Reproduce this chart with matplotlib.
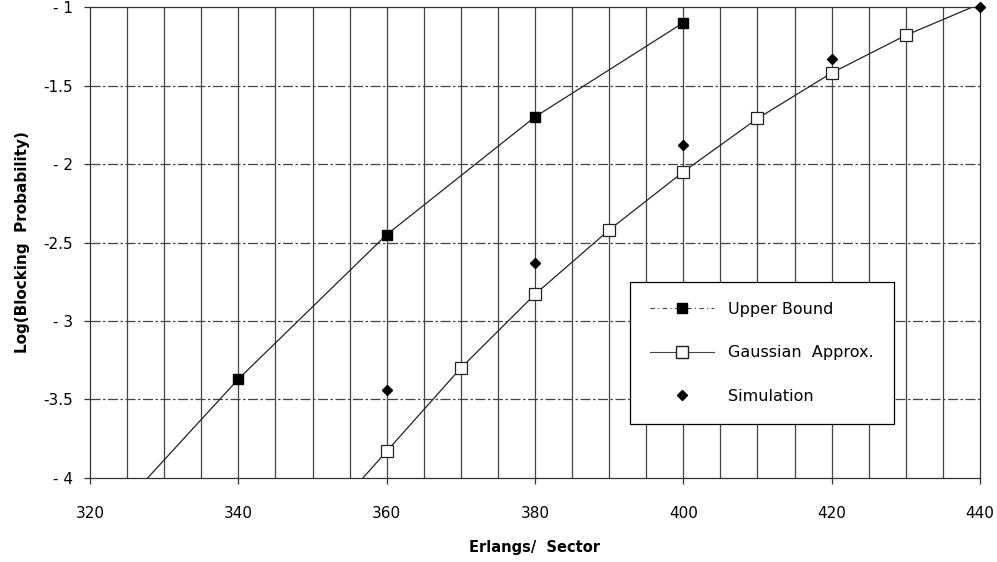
import matplotlib
matplotlib.use("Agg")
from matplotlib import pyplot as plt
import numpy as np

# values
upper_x = [340, 360, 380, 400]
upper_y = [-3.37, -2.45, -1.70, -1.10]
# fitted curve runs past the first point down to the axis
upper_curve_x = [320, 340, 360, 380, 400]
upper_curve_y = [-4.40, -3.37, -2.45, -1.70, -1.10]

gauss_x = [360, 370, 380, 390, 400, 410, 420, 430]
gauss_y = [-3.83, -3.30, -2.83, -2.42, -2.05, -1.71, -1.42, -1.18]
gauss_curve_x = [350, 360, 370, 380, 390, 400, 410, 420, 430, 440]
gauss_curve_y = [-4.36, -3.83, -3.30, -2.83, -2.42, -2.05, -1.71, -1.42, -1.18, -0.98]

sim_x = [360, 380, 400, 420, 440]
sim_y = [-3.44, -2.63, -1.88, -1.33, -1.00]

y_ticks = [-4, -3.5, -3, -2.5, -2, -1.5, -1]
y_tick_labels = ['- 4', '-3.5', '- 3', '-2.5', '- 2', '-1.5', '- 1']
x_ticks = [320, 340, 360, 380, 400, 420, 440]

plt.rcParams['font.family'] = ['DejaVu Sans']

fig = plt.figure(figsize=(9.97, 5.62), dpi=100)
ax = fig.add_axes([0.0903, 0.1495, 0.8926, 0.838])

# grid: solid verticals every 5, dash-dot horizontals
for gx in np.arange(325, 440, 5):
    ax.axvline(gx, color='#444444', lw=0.9, zorder=1)
for gy in y_ticks[1:-1]:
    ax.axhline(gy, color='#444444', lw=0.9, ls=(0, (8, 2, 2, 2)), zorder=1)

ax.plot(upper_curve_x, upper_curve_y, color='#222222', lw=0.9, zorder=2)
ax.plot(gauss_curve_x, gauss_curve_y, color='#222222', lw=0.9, zorder=2)

ax.plot(upper_x, upper_y, ls='none', marker='s', ms=7, mfc='black', mec='black', zorder=3)
ax.plot(gauss_x, gauss_y, ls='none', marker='s', ms=8, mfc='white', mec='#222222', mew=0.9, zorder=3)
ax.plot(sim_x, sim_y, ls='none', marker='D', ms=5.5, mfc='black', mec='black', zorder=3, clip_on=False)

# legend handles
h1, = ax.plot([], [], color='#444444', lw=0.8, ls=(0, (4, 3, 1, 3)), marker='s', ms=7, mfc='black', mec='black')
h2, = ax.plot([], [], color='#444444', lw=0.8, marker='s', ms=8, mfc='white', mec='#222222')
h3, = ax.plot([], [], ls='none', marker='D', ms=5.5, mfc='black', mec='black')
leg = ax.legend([h1, h2, h3], ['Upper Bound', 'Gaussian  Approx.', 'Simulation'],
                loc='upper left', bbox_to_anchor=(0.607, 0.417), fontsize=11.5,
                frameon=True, fancybox=False, framealpha=1, edgecolor='black',
                labelspacing=1.8, handlelength=4.0, handletextpad=0.9,
                borderpad=1.25, borderaxespad=0)
leg.get_frame().set_linewidth(0.9)
leg.set_zorder(5)

ax.set_xlim(320, 440)
ax.set_ylim(-4, -1)
ax.set_xticks(x_ticks)
ax.set_yticks(y_ticks)
ax.set_yticklabels(y_tick_labels)
ax.tick_params(axis='both', labelsize=11, length=4, width=0.9, color='#333333', pad=8)
ax.tick_params(axis='x', pad=16)
for s in ax.spines.values():
    s.set_linewidth(0.9)
    s.set_color('#333333')

ax.set_xlabel('Erlangs/  Sector', fontsize=10.5, fontweight='bold', labelpad=14)
ax.set_ylabel('Log(Blocking  Probability)', fontsize=11, fontweight='bold', labelpad=10)

fig.savefig('out.png', dpi=100)
